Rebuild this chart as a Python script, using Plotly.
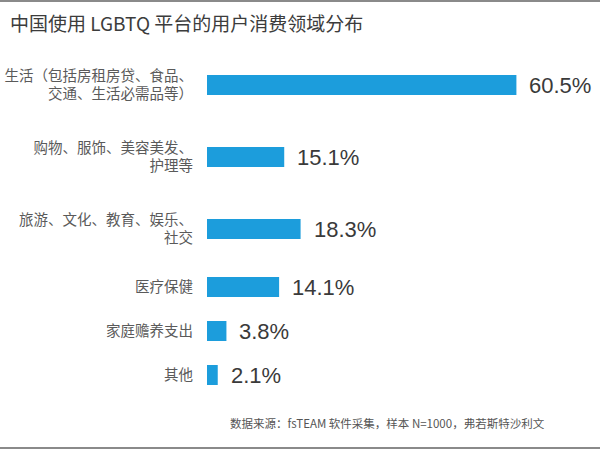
import plotly.graph_objects as go

title_text = "中国使用 LGBTQ 平台的用户消费领域分布"
source_text = "数据来源：fsTEAM 软件采集，样本 N=1000，弗若斯特沙利文"
categories = [
    "生活（包括房租房贷、食品、<br>交通、生活必需品等）",
    "购物、服饰、美容美发、<br>护理等",
    "旅游、文化、教育、娱乐、<br>社交",
    "医疗保健",
    "家庭赡养支出",
    "其他",
]
values = [60.5, 15.1, 18.3, 14.1, 3.8, 2.1]
value_labels = ["60.5%", "15.1%", "18.3%", "14.1%", "3.8%", "2.1%"]

# layout: slot height depends on number of label lines
line_counts = [c.count("<br>") + 1 for c in categories]
slots = [16 + 28 * n for n in line_counts]
positions = [0.0]
for i in range(1, len(slots)):
    positions.append(positions[-1] + (slots[i - 1] + slots[i]) / 2)

CJK = "Noto Sans CJK SC"
BAR = "#1c9ddc"

W, H = 600, 450
ML, MR, MT, MB = 207, 35, 60, 40
PW, PH = W - ML - MR, H - MT - MB


def px_x(x):
    return (x - ML) / PW


def px_y(y):
    return (H - MB - y) / PH


fig = go.Figure()
fig.add_trace(go.Bar(
    x=values, y=positions, orientation="h", width=20,
    marker=dict(color=BAR, line=dict(width=0)),
    hoverinfo="skip",
))

for v, p, t in zip(values, positions, value_labels):
    fig.add_annotation(x=v, y=p, text=t, showarrow=False, xanchor="left",
                       xshift=11, yanchor="middle",
                       font=dict(family="Liberation Sans", size=22, color="#3a3a3a"))

fig.add_annotation(xref="paper", yref="paper", x=px_x(8), y=px_y(22),
                   xanchor="left", yanchor="middle", text=title_text, showarrow=False,
                   font=dict(family=CJK, size=19, color="#3c3c3c"))
fig.add_annotation(xref="paper", yref="paper", x=px_x(228), y=px_y(423),
                   xanchor="left", yanchor="middle", text=source_text, showarrow=False,
                   font=dict(family=CJK, size=11.5, color="#555555"))

for yy in (1, 448):
    fig.add_shape(type="line", xref="paper", yref="paper", x0=px_x(0), x1=px_x(W),
                  y0=px_y(yy), y1=px_y(yy), line=dict(color="#8a8a8a", width=2))

fig.update_layout(
    width=W, height=H,
    margin=dict(l=ML, r=MR, t=MT, b=MB, autoexpand=False),
    paper_bgcolor="#ffffff", plot_bgcolor="#ffffff",
    showlegend=False,
    xaxis=dict(range=[0, 70], visible=False, fixedrange=True, automargin=False),
    yaxis=dict(range=[PH - 25, -25], automargin=False, fixedrange=True,
               tickvals=positions, ticktext=categories, showgrid=False, zeroline=False,
               showline=False, ticks="", ticklabelstandoff=13,
               tickfont=dict(family=CJK, size=14.5, color="#5a5a5a")),
)

fig.write_html("out.html", config={"displayModeBar": False},
               post_script="document.body.style.margin='0';document.body.style.overflow='hidden';")
